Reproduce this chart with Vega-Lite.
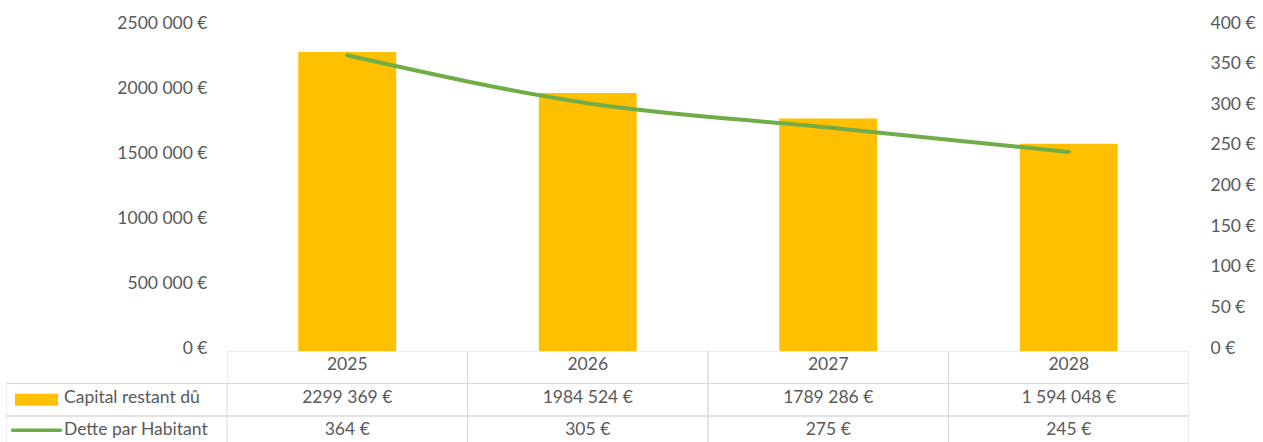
{
  "$schema": "https://vega.github.io/schema/vega-lite/v6.json",
  "autosize": {"type": "pad"},
  "padding": {"left": 5, "top": 14, "right": 0, "bottom": 0},
  "background": "white",
  "config": {"view": {"stroke": null}, "font": "Lato", "concat": {"spacing": 0}},
  "datasets": {
    "main": [
      {"year": "2025", "capital": 2299369, "dette": 364},
      {"year": "2026", "capital": 1984524, "dette": 305},
      {"year": "2027", "capital": 1789286, "dette": 275},
      {"year": "2028", "capital": 1594048, "dette": 245}
    ],
    "rows": [
      {"row": "Capital restant dû", "kind": "bar"},
      {"row": "Dette par Habitant", "kind": "line"}
    ],
    "table": [
      {"year": "2025", "row": "header", "label": "2025"},
      {"year": "2026", "row": "header", "label": "2026"},
      {"year": "2027", "row": "header", "label": "2027"},
      {"year": "2028", "row": "header", "label": "2028"},
      {"year": "2025", "row": "Capital restant dû", "label": "2299 369 €"},
      {"year": "2026", "row": "Capital restant dû", "label": "1984 524 €"},
      {"year": "2027", "row": "Capital restant dû", "label": "1789 286 €"},
      {"year": "2028", "row": "Capital restant dû", "label": "1 594 048 €"},
      {"year": "2025", "row": "Dette par Habitant", "label": "364 €"},
      {"year": "2026", "row": "Dette par Habitant", "label": "305 €"},
      {"year": "2027", "row": "Dette par Habitant", "label": "275 €"},
      {"year": "2028", "row": "Dette par Habitant", "label": "245 €"}
    ]
  },
  "columns": 2,
  "spacing": 0,
  "bounds": "flush",
  "concat": [
    {
      "width": 221, "height": 325,
      "data": {"values": []},
      "mark": "point",
      "encoding": {}
    },
    {
      "width": 962, "height": 325,
      "data": {"name": "main"},
      "encoding": {
        "x": {"field": "year", "type": "ordinal", "scale": {"paddingInner": 0.593, "paddingOuter": 0.2965}, "axis": null}
      },
      "layer": [
        {
          "mark": {"type": "bar", "color": "#FFC000"},
          "encoding": {
            "y": {
              "field": "capital", "type": "quantitative",
              "scale": {"domain": [0, 2500000], "nice": false},
              "axis": {
                "values": [0, 500000, 1000000, 1500000, 2000000, 2500000],
                "labelExpr": "datum.value == 0 ? '0 €' : floor(datum.value/1000) + ' 000 €'",
                "domain": false, "ticks": false, "grid": false, "labelOffset": -3,
                "labelPadding": 20, "labelFontSize": 17.5, "labelColor": "#595959", "title": null
              }
            }
          }
        },
        {
          "mark": {"type": "line", "color": "#70AD47", "strokeWidth": 4, "interpolate": "monotone", "strokeCap": "round"},
          "encoding": {
            "y": {
              "field": "dette", "type": "quantitative",
              "scale": {"domain": [0, 400], "nice": false},
              "axis": {
                "orient": "right",
                "values": [0, 50, 100, 150, 200, 250, 300, 350, 400],
                "labelExpr": "datum.value + ' €'",
                "domain": false, "ticks": false, "grid": false, "labelOffset": -3,
                "labelPadding": 21, "labelFontSize": 17.5, "labelColor": "#595959", "title": null
              }
            }
          }
        }
      ],
      "resolve": {"scale": {"y": "independent"}}
    },
    {
      "width": 221, "height": 91,
      "data": {"name": "rows"},
      "encoding": {
        "y": {
          "field": "row", "type": "nominal",
          "scale": {"domain": ["header", "Capital restant dû", "Dette par Habitant"], "range": [0, 97.5], "paddingInner": 0, "paddingOuter": 0},
          "axis": null
        }
      },
      "layer": [
        {
          "mark": {"type": "rect", "filled": false, "color": "#D9D9D9", "strokeWidth": 1, "clip": true}
        },
        {
          "transform": [{"filter": "datum.kind == 'bar'"}],
          "mark": {"type": "point", "shape": "M-1,-0.28H1V0.28H-1Z", "filled": true, "color": "#FFC000", "opacity": 1, "size": 1849, "strokeWidth": 0},
          "encoding": {
            "x": {"datum": "key", "type": "nominal", "scale": {"type": "point", "domain": ["key", "label"], "range": [30.5, 58], "padding": 0}, "axis": null}
          }
        },
        {
          "transform": [{"filter": "datum.kind == 'line'"}],
          "mark": {"type": "point", "shape": "M-1,0H1", "filled": false, "color": "#70AD47", "opacity": 1, "size": 2304, "strokeWidth": 3.5, "strokeCap": "round", "yOffset": -2},
          "encoding": {
            "x": {"datum": "key", "type": "nominal", "scale": {"type": "point", "domain": ["key", "label"], "range": [30.5, 58], "padding": 0}, "axis": null}
          }
        },
        {
          "mark": {"type": "text", "align": "left", "baseline": "middle", "fontSize": 17.5, "color": "#595959", "dy": -2},
          "encoding": {
            "x": {"datum": "label", "type": "nominal", "scale": {"type": "point", "domain": ["key", "label"], "range": [30.5, 58], "padding": 0}, "axis": null},
            "text": {"field": "row"}
          }
        }
      ]
    },
    {
      "width": 962, "height": 91,
      "data": {"name": "table"},
      "encoding": {
        "x": {"field": "year", "type": "ordinal", "scale": {"paddingInner": 0, "paddingOuter": 0}, "axis": null},
        "y": {
          "field": "row", "type": "nominal",
          "scale": {"domain": ["header", "Capital restant dû", "Dette par Habitant"], "range": [0, 97.5], "paddingInner": 0, "paddingOuter": 0},
          "axis": null
        }
      },
      "layer": [
        {"mark": {"type": "rect", "filled": false, "color": "#D9D9D9", "strokeWidth": 1, "clip": true}},
        {"mark": {"type": "text", "align": "center", "baseline": "middle", "fontSize": 17.5, "color": "#595959", "dy": -2}, "encoding": {"text": {"field": "label"}}}
      ]
    }
  ]
}
